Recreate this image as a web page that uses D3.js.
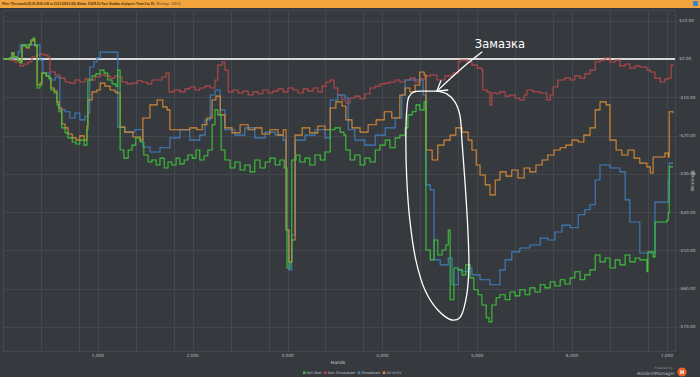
<!DOCTYPE html>
<html>
<head>
<meta charset="utf-8">
<script src="https://cdn.jsdelivr.net/npm/d3@7.9.0/dist/d3.min.js"></script>
<style>
  html, body { margin: 0; padding: 0; background: #36393d; overflow: hidden; }
  svg { display: block; font-family: "DejaVu Sans", "Liberation Sans", sans-serif; }
</style>
</head>
<body>
<svg id="chart" width="700" height="377"></svg>
<script>
// ─────────── DATA (hands, $) ───────────
const netWon = [
  [0,0],[20,0],[70,0.3],[95,1.6],[115,0.5],[150,-0.3],[180,-1.0],[200,3.7],[245,3.1],[275,3.9],[295,5.0],[315,5.5],[335,3.7],
  [360,-7.6],[390,-6.8],[410,-3.7],[455,-4.4],[485,-5.0],[505,-8.1],[540,-8.9],[570,-12.0],[590,-13.8],[620,-18.0],[655,-19.3],
  [685,-20.6],[730,-21.7],[770,-22.2],[810,-21.2],[855,-22.5],[885,-18.5],[895,-5.5],[940,-4.4],[980,-3.9],[1025,-2.9],[1065,-3.7],
  [1105,-5.5],[1150,-6.5],[1190,-7.1],[1210,-2.9],[1235,-23.8],[1275,-25.9],[1320,-23.8],[1360,-22.5],[1400,-20.6],[1445,-21.7],
  [1485,-25.1],[1530,-26.9],[1570,-26.4],[1615,-27.7],[1655,-25.9],[1700,-28.5],[1740,-26.9],[1780,-27.7],[1825,-25.9],[1865,-27.4],
  [1910,-26.4],[1950,-25.1],[1995,-25.9],[2035,-23.8],[2075,-26.4],[2120,-25.3],[2160,-23.8],[2205,-17.2],[2235,-13.3],[2265,-14.6],
  [2300,-23.8],[2340,-26.4],[2395,-28.5],[2445,-26.9],[2500,-29.0],[2550,-27.7],[2605,-29.5],[2655,-26.4],[2710,-28.5],[2765,-26.9],
  [2815,-25.9],[2870,-27.7],[2920,-26.4],[2965,-28.5],[2995,-54.6],[3025,-53.0],[3045,-26.4],[3090,-25.1],[3130,-26.9],[3185,-25.9],
  [3235,-27.7],[3290,-25.1],[3345,-26.4],[3395,-24.3],[3450,-18.5],[3500,-18.0],[3555,-19.1],[3595,-19.9],[3615,-23.8],[3660,-26.4],
  [3710,-25.1],[3765,-27.7],[3815,-25.9],[3870,-26.9],[3925,-23.8],[3975,-22.5],[4030,-21.2],[4080,-23.2],[4135,-20.6],[4185,-19.9],
  [4240,-18.0],[4270,-14.6],[4315,-13.8],[4355,-12.0],[4395,-13.3],[4440,-11.2],[4460,-49.9],[4505,-52.5],[4545,-47.3],[4585,-51.2],
  [4630,-49.9],[4670,-48.6],[4695,-44.7],[4715,-62.9],[4755,-54.6],[4800,-55.1],[4840,-56.4],[4880,-53.8],[4925,-57.2],[4965,-60.3],
  [5010,-61.6],[5050,-64.3],[5095,-67.6],[5125,-68.7],[5155,-64.3],[5200,-62.4],[5240,-61.6],[5295,-62.9],[5345,-60.9],[5400,-61.9],
  [5450,-60.3],[5505,-61.6],[5555,-59.8],[5610,-60.9],[5665,-59.0],[5715,-59.8],[5770,-58.2],[5820,-59.3],[5875,-57.7],[5925,-58.8],
  [5980,-57.2],[6030,-55.6],[6085,-57.7],[6135,-56.4],[6190,-55.1],[6245,-51.2],[6295,-53.0],[6350,-52.0],[6400,-54.6],[6455,-52.5],
  [6505,-53.8],[6560,-51.2],[6610,-53.0],[6665,-52.0],[6715,-52.5],[6790,-55.6],[6800,-50.4],[6855,-51.7],[6875,-42.6],[6960,-42.6],
  [7000,-42.1],[7015,-40.2],[7025,-28.2],[7065,-28.2]
];

const nonShowdown = [
  [0,0],[20,0],[75,-0.3],[125,-0.8],[180,-1.8],[220,-1.3],[265,-0.8],[305,0.5],[350,1.0],[390,1.3],[430,1.0],[475,0.5],[495,-3.4],
  [550,-4.2],[600,-5.0],[655,-6.0],[705,-6.3],[760,-5.5],[810,-6.0],[865,-5.2],[915,-5.5],[970,-4.7],[1025,-4.2],[1075,-4.4],
  [1130,-5.0],[1180,-4.4],[1210,-4.7],[1255,-6.0],[1310,-6.5],[1360,-6.3],[1415,-5.7],[1465,-6.0],[1520,-6.5],[1570,-5.5],[1625,-5.5],
  [1675,-4.7],[1720,-3.7],[1750,-8.6],[1805,-8.1],[1865,-8.6],[1920,-7.8],[1970,-7.3],[2025,-8.1],[2075,-7.6],[2130,-7.1],[2185,-7.6],
  [2235,-5.5],[2265,-1.6],[2310,-0.8],[2340,-2.9],[2375,-8.6],[2425,-8.1],[2480,-8.9],[2530,-8.4],[2585,-9.4],[2635,-8.6],[2690,-9.1],
  [2740,-8.1],[2795,-8.9],[2845,-8.4],[2900,-7.8],[2955,-8.6],[3005,-7.6],[3060,-8.1],[3110,-8.9],[3165,-7.8],[3215,-8.4],[3270,-7.6],
  [3320,-8.6],[3365,-7.1],[3405,-6.0],[3450,-5.5],[3490,-7.6],[3530,-9.4],[3575,-10.7],[3615,-11.5],[3660,-10.2],[3710,-9.7],
  [3765,-10.4],[3815,-9.1],[3870,-7.6],[3925,-7.1],[3975,-6.5],[4030,-6.3],[4080,-6.0],[4135,-5.5],[4185,-6.0],[4240,-5.5],[4290,-5.0],
  [4345,-6.0],[4395,-5.2],[4450,-4.4],[4505,-4.2],[4575,-5.5],[4660,-4.4],[4745,-3.7],[4800,-0.8],[4820,-0.3],[4895,-0.8],[4945,-1.6],
  [5000,-2.4],[5050,-2.9],[5060,-8.1],[5105,-8.6],[5135,-12.0],[5155,-8.9],[5200,-9.1],[5240,-8.6],[5295,-9.7],[5345,-9.4],[5400,-10.2],
  [5450,-10.7],[5495,-9.4],[5525,-8.1],[5590,-8.6],[5665,-8.9],[5735,-10.7],[5770,-9.4],[5800,-7.3],[5850,-5.5],[5925,-5.0],[5980,-5.5],
  [6030,-4.4],[6085,-5.0],[6135,-3.9],[6190,-2.9],[6245,-0.8],[6295,-0.3],[6350,0.3],[6400,-0.8],[6455,-0.3],[6505,-1.8],[6560,-1.3],
  [6610,-2.4],[6665,-1.8],[6715,-2.1],[6790,-2.9],[6825,-3.4],[6875,-5.0],[6930,-6.0],[6980,-5.2],[7020,-5.0],[7045,-1.6],[7065,-1.8]
];

const showdown = [
  [0,0],[20,0],[95,0.3],[160,1.8],[180,3.7],[350,3.7],[390,-0.3],[420,-3.7],[495,-5.5],[550,-4.7],[580,-4.7],[600,-13.3],[655,-13.8],
  [705,-15.4],[760,-14.1],[810,-15.9],[865,-14.9],[895,-14.1],[915,-2.1],[960,-0.8],[990,0.3],[1025,1.8],[1200,1.8],[1210,-17.8],
  [1285,-19.1],[1390,-18.5],[1445,-18.5],[1475,-23.0],[1550,-24.3],[1655,-23.2],[1760,-20.6],[1865,-18.5],[1970,-21.2],[2075,-19.9],
  [2130,-15.9],[2185,-9.4],[2235,-8.1],[2290,-13.3],[2340,-18.5],[2445,-19.9],[2550,-18.0],[2655,-20.6],[2765,-19.1],[2870,-19.9],
  [2955,-21.2],[2985,-44.7],[3015,-55.1],[3045,-46.0],[3080,-21.2],[3185,-19.9],[3290,-18.5],[3395,-20.6],[3450,-10.7],[3530,-9.4],
  [3605,-10.2],[3640,-18.5],[3710,-21.2],[3815,-22.5],[3925,-19.9],[4030,-18.0],[4135,-15.4],[4205,-9.4],[4240,-5.5],[4395,-5.5],
  [4430,-9.4],[4460,-32.9],[4505,-34.2],[4545,-52.5],[4610,-53.8],[4695,-52.0],[4735,-59.0],[4800,-55.1],[4840,-55.6],[4905,-54.6],
  [4945,-56.4],[5030,-57.7],[5135,-59.0],[5240,-55.1],[5295,-52.5],[5365,-50.4],[5450,-49.4],[5555,-48.6],[5665,-46.8],[5745,-47.3],
  [5820,-45.2],[5895,-43.4],[5980,-44.1],[6065,-40.7],[6135,-39.4],[6190,-38.1],[6245,-31.6],[6295,-27.7],[6400,-28.5],[6505,-29.5],
  [6560,-36.8],[6610,-42.6],[6715,-50.7],[6875,-37.4],[7015,-31.6],[7025,-27.2],[7065,-27.2]
];

const allInEV = [
  [0,0],[20,0],[70,0.3],[95,1.6],[115,0.5],[150,-0.3],[180,-1.0],[200,3.4],[245,2.9],[275,3.7],[295,4.7],[315,5.0],[335,3.4],
  [360,-6.8],[390,-6.3],[410,-3.7],[455,-4.4],[485,-5.0],[505,-7.6],[540,-8.4],[570,-11.2],[590,-12.8],[620,-17.0],[655,-18.0],
  [685,-19.6],[730,-20.6],[770,-21.2],[810,-20.1],[855,-21.2],[885,-17.5],[895,-10.7],[940,-8.6],[990,-8.1],[1025,-6.3],[1075,-7.1],
  [1130,-8.1],[1180,-8.6],[1200,-8.9],[1235,-17.8],[1285,-19.1],[1370,-20.4],[1445,-21.2],[1475,-15.4],[1550,-12.0],[1625,-10.7],
  [1685,-12.5],[1730,-13.3],[1760,-18.5],[1865,-18.5],[1970,-18.0],[2045,-18.5],[2100,-17.2],[2150,-15.4],[2205,-10.7],[2245,-9.7],
  [2290,-14.6],[2340,-18.0],[2415,-19.3],[2500,-17.2],[2585,-18.5],[2655,-18.0],[2730,-19.6],[2815,-18.5],[2900,-19.9],[2955,-18.5],
  [2985,-44.7],[3015,-53.0],[3045,-47.3],[3080,-19.9],[3155,-18.0],[3235,-19.3],[3320,-17.5],[3395,-18.5],[3450,-12.8],[3510,-11.2],
  [3575,-12.3],[3615,-15.9],[3680,-18.0],[3765,-19.1],[3850,-17.2],[3935,-15.9],[4020,-13.8],[4100,-15.4],[4185,-9.4],[4240,-7.6],
  [4290,-8.6],[4345,-6.8],[4395,-3.4],[4440,-4.2],[4460,-23.8],[4525,-26.4],[4585,-22.5],[4650,-21.2],[4715,-19.9],[4775,-18.0],
  [4840,-19.1],[4905,-21.2],[4945,-23.8],[4990,-27.7],[5030,-30.3],[5085,-32.9],[5135,-35.5],[5190,-31.6],[5240,-29.5],[5305,-30.6],
  [5365,-29.0],[5430,-31.1],[5495,-28.5],[5555,-29.5],[5620,-27.7],[5685,-26.4],[5745,-25.1],[5810,-23.8],[5875,-23.2],[5935,-22.5],
  [6000,-21.2],[6065,-21.7],[6125,-19.9],[6190,-18.0],[6245,-13.3],[6295,-11.2],[6360,-12.0],[6400,-21.2],[6465,-23.8],[6525,-25.1],
  [6590,-23.8],[6655,-25.9],[6715,-27.2],[6790,-28.2],[6825,-29.8],[6855,-25.6],[6930,-25.6],[6980,-24.6],[7015,-25.6],[7025,-13.8],
  [7065,-14.1]
];

const xTicks = [1000, 2000, 3000, 4000, 5000, 6000, 7000];
const yTicks = [10, 0, -10, -20, -30, -40, -50, -60, -70];

const seriesNames = ["Net Won", "Non Showdown", "Showdown", "All-In EV"];
const seriesColors = ["#3ec43a", "#b8484a", "#3f7fbf", "#d98b34"];

// hand-drawn note (in hands / $)
const notePath = [
  [4575,-8.4],[4448,-8.4],[4332,-8.6],[4280,-9.9],[4258,-13.3],[4248,-21.2],[4258,-31.6],[4290,-42.1],[4353,-52.5],
  [4448,-60.3],[4585,-65.6],[4733,-68.2],[4817,-67.6],[4881,-62.9],[4912,-55.1],[4902,-44.7],[4870,-31.6],[4839,-21.2],
  [4817,-14.6],[4765,-11.2],[4680,-9.1],[4575,-8.4]
];
const noteArrow = [[5050,1.8],[4830,-2.6],[4575,-8.4]];
const noteBarbs = [[[4617,-5.7],[4575,-8.4],[4690,-8.1]]];
const noteLabel = { text: "Замазка", at: [5240, 3.9] };

const filterText = "Filter: This month (01.01.2016 0:00 to 31.01.2016 0:00); Blinds: $.05/$.10, Fast; Number of players: From 2 to 10;";
const winningsText = "Winnings: -$28.16";

// ─────────── SETUP ───────────
const svg = d3.select("#chart");
const W = 700, H = 377;
const plot = { left: 3, right: 675, top: 10, bottom: 351 };

const x = d3.scaleLinear().domain([0, 7086]).range([plot.left, plot.right]);
const y = d3.scaleLinear().domain([12.8, -76.3]).range([plot.top, plot.bottom]);

svg.append("rect").attr("width", W).attr("height", H).attr("fill", "#36393d");

// top filter bar
svg.append("rect").attr("width", W).attr("height", 8).attr("fill", "#f2a53c");
const filterLabel = svg.append("text").attr("x", 2).attr("y", 5.3)
  .attr("font-family", "'Liberation Sans', Arial, sans-serif")
  .attr("font-size", 2.9).attr("font-weight", "bold").attr("fill", "#3a2a10")
  .text(filterText);
svg.append("text").attr("x", 2 + filterLabel.node().getComputedTextLength() + 1.5).attr("y", 5.3)
  .attr("font-family", "'Liberation Sans', Arial, sans-serif")
  .attr("font-size", 2.9).attr("font-weight", "bold").attr("fill", "#8a6430")
  .text(winningsText);
svg.append("rect").attr("x", 693).attr("y", 1).attr("width", 5).attr("height", 5).attr("rx", 1).attr("fill", "#3d7fd0");

// ─────────── GRID ───────────
const grid = svg.append("g").attr("stroke", "#44484d").attr("stroke-width", 1).attr("shape-rendering", "crispEdges");
const vLines = [];
for (let k = 0; k < 7; k++) vLines.push(k * 1000, k * 1000 + 400, k * 1000 + 800);
vLines.push(7000);
grid.selectAll(".v").data(vLines).join("line")
  .attr("x1", d => Math.round(x(d)) + 0.5).attr("x2", d => Math.round(x(d)) + 0.5)
  .attr("y1", plot.top).attr("y2", plot.bottom);
grid.selectAll(".h").data(yTicks.filter(d => d !== 0)).join("line")
  .attr("x1", plot.left).attr("x2", plot.right + 3)
  .attr("y1", d => Math.round(y(d)) + 0.5).attr("y2", d => Math.round(y(d)) + 0.5);
grid.append("rect").attr("x", plot.left + 0.5).attr("y", plot.top + 0.5)
  .attr("width", plot.right - plot.left).attr("height", plot.bottom - plot.top).attr("fill", "none");

// zero line
svg.append("line").attr("x1", plot.left).attr("x2", plot.right)
  .attr("y1", y(0)).attr("y2", y(0)).attr("stroke", "#d8d8d8").attr("stroke-width", 1.8);

// ─────────── AXES ───────────
svg.append("g").selectAll("text").data(yTicks).join("text")
  .attr("x", plot.right + 4).attr("y", d => y(d) + 1.5)
  .attr("font-size", 4.3).attr("fill", "#b9bcc0")
  .text(d => (d < 0 ? "-$" : "$") + Math.abs(d).toFixed(2));

svg.append("g").selectAll("text").data(xTicks).join("text")
  .attr("x", d => x(d)).attr("y", 356.5).attr("text-anchor", "middle")
  .attr("font-size", 4.3).attr("fill", "#b9bcc0")
  .text(d => d3.format(",")(d));

svg.append("text").attr("x", 338).attr("y", 363.5).attr("text-anchor", "middle")
  .attr("font-size", 4.6).attr("fill", "#d0d2d4").text("Hands");
svg.append("text").attr("transform", "translate(694,181) rotate(-90)").attr("text-anchor", "middle")
  .attr("font-size", 4.6).attr("fill", "#d0d2d4").text("Winnings");

// ─────────── SERIES ───────────
const line = d3.line().x(d => x(d[0])).y(d => y(d[1])).curve(d3.curveStepAfter);
const seriesData = [netWon, nonShowdown, showdown, allInEV];
const drawOrder = [1, 2, 3, 0];
svg.append("g").selectAll("path").data(drawOrder).join("path")
  .attr("d", i => line(seriesData[i]))
  .attr("fill", "none")
  .attr("stroke", i => seriesColors[i])
  .attr("stroke-width", 1.1);

// ─────────── NOTE ───────────
const freeLine = d3.line().x(d => x(d[0])).y(d => y(d[1])).curve(d3.curveCatmullRom);
const note = svg.append("g").attr("fill", "none").attr("stroke", "#ffffff").attr("stroke-width", 1.3).attr("stroke-linecap", "round");
note.append("path").attr("d", freeLine(notePath));
note.append("path").attr("d", freeLine(noteArrow));
note.selectAll(".barb").data(noteBarbs).join("path").attr("d", d => d3.line().x(p => x(p[0])).y(p => y(p[1]))(d));
svg.append("text").attr("x", x(noteLabel.at[0])).attr("y", y(noteLabel.at[1]) + 4)
  .attr("text-anchor", "middle").attr("font-size", 11.5).attr("fill", "#ffffff").text(noteLabel.text);

// ─────────── LEGEND ───────────
const legend = svg.append("g").attr("font-size", 3.6).attr("fill", "#b9bcc0");
let lx = 303;
seriesNames.forEach((name, i) => {
  legend.append("rect").attr("x", lx).attr("y", 371.5).attr("width", 2.6).attr("height", 2.6).attr("fill", seriesColors[i]);
  const t = legend.append("text").attr("x", lx + 3.6).attr("y", 374.2).text(name);
  lx += 3.6 + t.node().getComputedTextLength() + 2.2;
});

// ─────────── LOGO ───────────
svg.append("text").attr("x", 673).attr("y", 369).attr("text-anchor", "end").attr("font-size", 3.2).attr("fill", "#8d9094").text("Powered by");
svg.append("text").attr("x", 675).attr("y", 375).attr("text-anchor", "end").attr("font-size", 4.6).attr("fill", "#b9bcc0").text("HoldemManager");
svg.append("circle").attr("cx", 682).attr("cy", 372).attr("r", 4.6).attr("fill", "#e8622a");
svg.append("text").attr("x", 682).attr("y", 374).attr("text-anchor", "middle").attr("font-size", 5).attr("font-weight", "bold").attr("fill", "#fff").text("H");
</script>
</body>
</html>
